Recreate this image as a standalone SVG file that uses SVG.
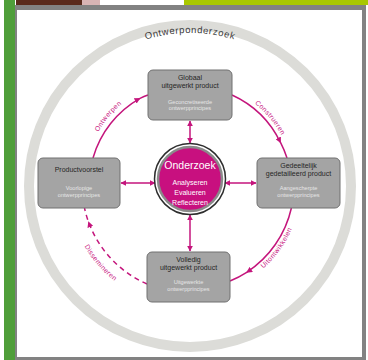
<svg xmlns="http://www.w3.org/2000/svg" width="368" height="360" viewBox="0 0 368 360">
<defs>
<style>
.node rect{fill:#a4a4a4;stroke:#707070;stroke-width:1}
.t{font-family:"Liberation Sans",Arial,sans-serif;text-anchor:middle}
.title{font-size:7px;fill:#262626}
.sub{font-size:5.6px;fill:#e6e6e6}
.lbl{font-family:"Liberation Sans",Arial,sans-serif;font-size:6.8px;fill:#c8187f;letter-spacing:0.4px}
.arc{fill:none;stroke:#c4157c;stroke-width:1.5}
</style>
<marker id="ah" viewBox="0 0 10 10" refX="9" refY="5" markerWidth="6" markerHeight="6" markerUnits="userSpaceOnUse" orient="auto-start-reverse">
<path d="M0,0 L10,5 L0,10 Z" fill="#c4157c"/>
</marker>
<path id="pOnt" d="M85.6,166.6 A106 106 0 0 1 153.7,85.4"/>
<path id="pCon" d="M225.6,87.2 A104 104 0 0 1 292.4,166.9"/>
<path id="pUit" d="M235.2,286.4 A111 111 0 0 0 300.4,196.6"/>
<path id="pDis" d="M70.2,208.3 A122 122 0 0 0 150.3,300.4"/>
<path id="pTop" d="M37,186 A153 153 0 0 1 343,186"/>
</defs>

<!-- background / frame -->
<rect x="0" y="0" width="368" height="360" fill="#ffffff"/>
<rect x="4" y="0" width="11" height="360" fill="#4f9e3a"/>
<rect x="16" y="0" width="66" height="5" fill="#5a2a1c"/>
<rect x="82" y="0" width="18" height="5" fill="#d8b4b4"/>
<rect x="184" y="0" width="184" height="5" fill="#a9c800"/>
<rect x="15" y="5" width="351" height="355" fill="#828282"/>
<rect x="17" y="10" width="345" height="347" fill="#ffffff"/>

<!-- outer ring -->
<circle cx="190" cy="186" r="161" fill="none" stroke="#dcdcd8" stroke-width="10"/>
<text class="t" font-size="9.5" fill="#3a3a3a" letter-spacing="0.6"><textPath href="#pTop" startOffset="50%">Ontwerponderzoek</textPath></text>

<g id="connectors">
<path class="arc" d="M93,158 A100 100 0 0 1 140,98.4 A100 100 0 0 1 148,95" marker-mid="url(#ah)"/>
<path class="arc" d="M232,95 A100 100 0 0 1 280.6,142.7 A100 100 0 0 1 287,158" marker-mid="url(#ah)"/>
<path class="arc" d="M291.4,208 A104 104 0 0 1 246.7,272.3 A104 104 0 0 1 230,281" marker-mid="url(#ah)"/>
<path class="arc" d="M147,284 A108 108 0 0 1 88.5,221.9 A108 108 0 0 1 84.5,208" stroke-dasharray="5,4" marker-mid="url(#ah)"/>
<line class="arc" x1="190" y1="121" x2="190" y2="143" marker-start="url(#ah)" marker-end="url(#ah)"/>
<line class="arc" x1="190" y1="215" x2="190" y2="251" marker-start="url(#ah)" marker-end="url(#ah)"/>
<line class="arc" x1="121" y1="183" x2="155" y2="183" marker-start="url(#ah)" marker-end="url(#ah)"/>
<line class="arc" x1="225" y1="183" x2="256" y2="183" marker-start="url(#ah)" marker-end="url(#ah)"/>
<text class="lbl" text-anchor="middle"><textPath href="#pOnt" startOffset="50%">Ontwerpen</textPath></text>
<text class="lbl" text-anchor="middle"><textPath href="#pCon" startOffset="50%">Construeren</textPath></text>
<text class="lbl" text-anchor="middle"><textPath href="#pUit" startOffset="50%">Uitontwikkelen</textPath></text>
<text class="lbl" text-anchor="middle"><textPath href="#pDis" startOffset="50%">Dissemineren</textPath></text>
</g>

<g id="onderzoek">
<circle cx="190" cy="179" r="35.5" fill="#ffffff" stroke="#2e2e2e" stroke-width="1.5"/>
<circle cx="190" cy="179" r="32" fill="#c8107f" stroke="#8a8a8a" stroke-width="2.5"/>
<text class="t" x="190" y="169" font-size="10.5" fill="#ffffff">Onderzoek</text>
<text class="t" x="190" y="185" font-size="7" fill="#ffffff">Analyseren</text>
<text class="t" x="190" y="195" font-size="7" fill="#ffffff">Evalueren</text>
<text class="t" x="190" y="204.5" font-size="7" fill="#ffffff">Reflecteren</text>
</g>

<g id="globaal" class="node">
<rect x="148" y="70" width="84" height="50" rx="5"/>
<text class="t title" x="190" y="80">Globaal</text>
<text class="t title" x="190" y="87.5">uitgewerkt product</text>
<text class="t sub" x="190" y="104">Geconcretiseerde</text>
<text class="t sub" x="190" y="110">ontwerpprincipes</text>
</g>

<g id="productvoorstel" class="node">
<rect x="38" y="158" width="82" height="50" rx="5"/>
<text class="t title" x="79" y="172">Productvoorstel</text>
<text class="t sub" x="79" y="190">Voorlopige</text>
<text class="t sub" x="79" y="196.5">ontwerpprincipes</text>
</g>

<g id="gedeeltelijk" class="node">
<rect x="257" y="158" width="83" height="50" rx="5"/>
<text class="t title" x="298.5" y="168">Gedeeltelijk</text>
<text class="t title" x="298.5" y="175.5">gedetailleerd product</text>
<text class="t sub" x="298.5" y="190">Aangescherpte</text>
<text class="t sub" x="298.5" y="196.5">ontwerpprincipes</text>
</g>

<g id="volledig" class="node">
<rect x="147" y="252" width="83" height="50" rx="5"/>
<text class="t title" x="188.5" y="262">Volledig</text>
<text class="t title" x="188.5" y="269.5">uitgewerkt product</text>
<text class="t sub" x="188.5" y="284">Uitgewerkte</text>
<text class="t sub" x="188.5" y="290.5">ontwerpprincipes</text>
</g>
</svg>
